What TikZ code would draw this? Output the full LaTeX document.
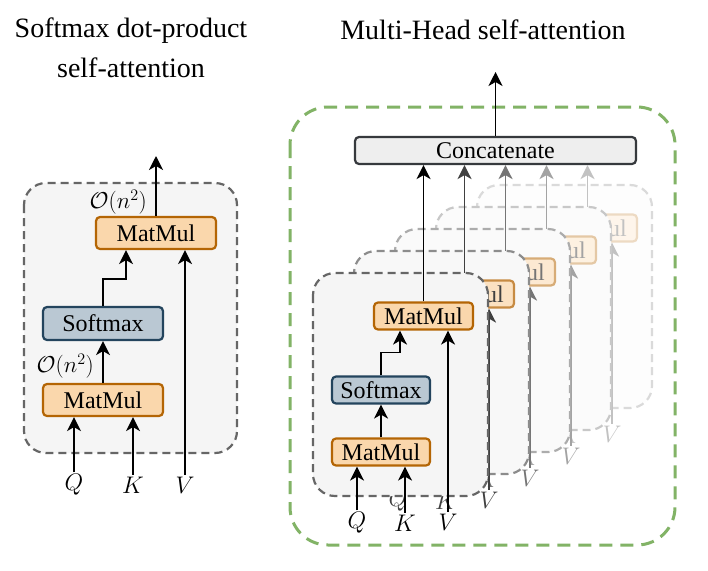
\documentclass[tikz,border=0pt]{standalone}
\usepackage{fix-cm}
\usepackage{fontspec}
\setmainfont{Liberation Serif}
\usetikzlibrary{arrows.meta,calc}
\definecolor{orfill}{HTML}{FAD7AC}
\definecolor{ordraw}{HTML}{B46504}
\definecolor{blfill}{HTML}{BAC8D3}
\definecolor{bldraw}{HTML}{23445D}
\definecolor{gyfill}{HTML}{F5F5F5}
\definecolor{gydraw}{HTML}{666666}
\definecolor{catfill}{HTML}{EEEEEE}
\definecolor{catdraw}{HTML}{36393D}
\definecolor{grn}{HTML}{82B366}
\tikzset{
  arr/.style={line width=1.8pt,-{Stealth[length=14pt,width=14pt,inset=4pt]}},
  opbox/.style={rectangle,rounded corners=4pt,line width=2.2pt,inner sep=0pt,
     font=\fontsize{24}{28}\selectfont},
  mmbig/.style={opbox,fill=orfill,draw=ordraw,minimum width=120pt,minimum height=32pt},
  smbig/.style={opbox,fill=blfill,draw=bldraw,minimum width=120pt,minimum height=33pt},
  lbl/.style={inner sep=0pt,font=\fontsize{24}{28}\selectfont},
  cplx/.style={inner sep=0pt,font=\fontsize{23}{26}\selectfont},
  ttl/.style={align=center,font=\fontsize{28}{40}\selectfont},
  headbox/.style={rounded corners=22pt,dashed,dash pattern=on 8pt off 5pt,line width=2.2pt},
}
\newcommand{\mkhead}[2]{%
  \colorlet{hline}{black!#2!white}%
  \colorlet{hbfill}{gyfill!#2!white}%
  \colorlet{hbdraw}{gydraw!#2!white}%
  \colorlet{hofill}{orfill!#2!white}%
  \colorlet{hodraw}{ordraw!#2!white}%
  \colorlet{hsfill}{blfill!#2!white}%
  \colorlet{hsdraw}{bldraw!#2!white}%
  \begin{scope}[shift={(41*#1,-22*#1)}]
    \draw[headbox,fill=hbfill,draw=hbdraw] (313,273) rectangle (488,496);
    \node[opbox,fill=hofill,draw=hodraw,text=hline,minimum width=98pt,minimum height=27pt] (mmA#1) at (381,452) {MatMul};
    \node[opbox,fill=hsfill,draw=hsdraw,text=hline,minimum width=98pt,minimum height=27pt] (smA#1) at (381,390) {Softmax};
    \node[opbox,fill=hofill,draw=hodraw,text=hline,minimum width=99pt,minimum height=27pt] (mmB#1) at (423.5,316) {MatMul};
    \node[lbl,text=hline] (Q#1) at (357,523) {$Q$};
    \node[lbl,text=hline] (K#1) at (405,523) {$K$};
    \node[lbl,text=hline] (V#1) at (448,522) {$V$};
    \draw[arr,draw=hline] ([yshift=2pt]Q#1.north) -- (Q#1 |- mmA#1.south);
    \draw[arr,draw=hline] ([yshift=2pt]K#1.north) -- (K#1 |- mmA#1.south);
    \draw[arr,draw=hline] (mmA#1.north) -- (smA#1.south);
    \draw[arr,draw=hline] (smA#1.north) -- ++(0,-23) -| ([xshift=-23.5pt]mmB#1.south);
    \draw[arr,draw=hline] ([yshift=2pt]V#1.north) -- (V#1 |- mmB#1.south);
    \draw[arr,draw=hline] (mmB#1.north) -- (mmB#1.north |- cat.south);
  \end{scope}}
\begin{document}
\begin{tikzpicture}[x=1pt,y=-1pt]
\useasboundingbox[fill=white] (0,0) rectangle (708,570);
% ---------- left ----------
\node[ttl] (t1) at (131,48) {Softmax dot-product\\self-attention};
\draw[headbox,fill=gyfill,draw=gydraw] (24,183) rectangle (237,453);
\node[mmbig] (lmm1) at (103,400) {MatMul};
\node[smbig] (lsm) at (103,323.5) {Softmax};
\node[mmbig] (lmm2) at (156,233) {MatMul};
\node[lbl] (lQ) at (74,485) {$Q$};
\node[lbl] (lK) at (133,485) {$K$};
\node[lbl] (lV) at (185,485) {$V$};
\coordinate (lout) at (156,156);
\draw[arr] ([yshift=2pt]lQ.north) -- (lQ |- lmm1.south);
\draw[arr] ([yshift=2pt]lK.north) -- (lK |- lmm1.south);
\draw[arr] ([yshift=2pt]lV.north) -- (lV |- lmm2.south);
\draw[arr] (lmm1.north) -- (lsm.south);
\draw[arr] (lsm.north) -- ++(0,-27) -| ([xshift=-30pt]lmm2.south);
\draw[arr] (lmm2.north) -- (lout);
\node[cplx,anchor=east] (c1) at (147,202) {$\mathcal{O}(n^2)$};
\node[cplx,anchor=east] (c2) at (94,366) {$\mathcal{O}(n^2)$};
% ---------- right ----------
\node[ttl] (t2) at (483,30) {Multi-Head self-attention};
\draw[grn,line width=3pt,dashed,dash pattern=on 13pt off 8pt,rounded corners=38pt] (290,107) rectangle (675,545);
\node[opbox,fill=catfill,draw=catdraw,minimum width=281pt,minimum height=27pt] (cat) at (495.5,150.5) {Concatenate};
\coordinate (rout) at (496.5,72);
\draw[arr] (cat.north) -- (cat.north |- rout);
\mkhead{4}{24}
\mkhead{3}{36}
\mkhead{2}{54}
\mkhead{1}{75}
\mkhead{0}{100}
\end{tikzpicture}
\end{document}
